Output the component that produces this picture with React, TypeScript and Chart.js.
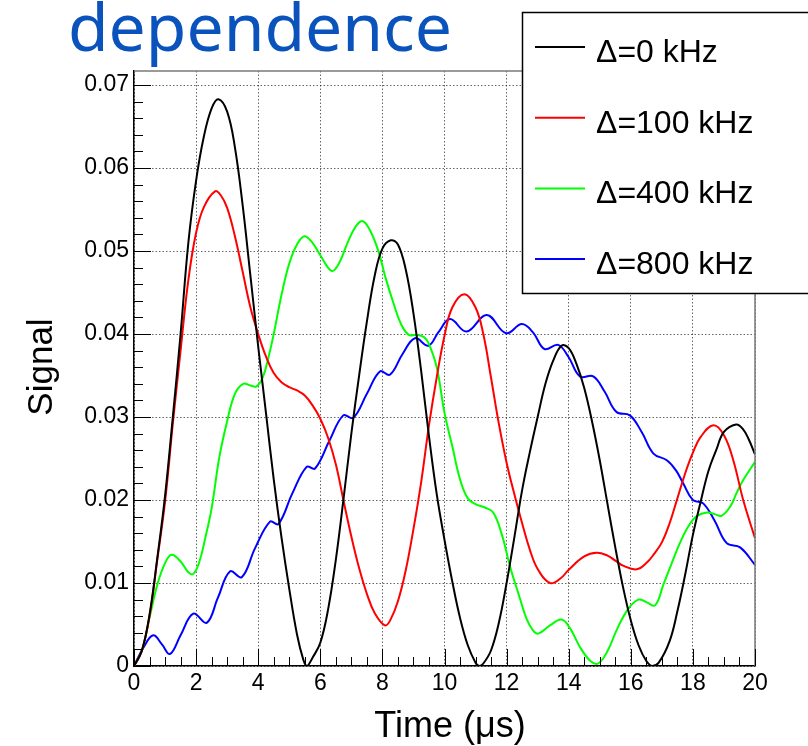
import React, { useEffect, useRef } from "react";
import { Chart, registerables } from "chart.js";

Chart.register(...registerables);

// ---- data ----
const seriesLabels = ["Δ=0 kHz", "Δ=100 kHz", "Δ=400 kHz", "Δ=800 kHz"];
const seriesColors = ["#000000", "#ff0000", "#00ff00", "#0000ff"];

const xTickValues = [0, 2, 4, 6, 8, 10, 12, 14, 16, 18, 20];
const yTickValues = [0, 0.01, 0.02, 0.03, 0.04, 0.05, 0.06, 0.07];

const time0 = [0, 0.25, 0.5, 0.75, 1.0, 1.25, 1.5, 1.75, 2.0, 2.25, 2.5, 2.72, 3.0, 3.25, 3.5, 3.75, 4.0, 4.25, 4.5, 4.75, 5.0, 5.25, 5.45, 5.57, 5.75, 6.0, 6.25, 6.5, 6.75, 7.0, 7.25, 7.5, 7.75, 8.0, 8.27, 8.5, 8.75, 9.0, 9.25, 9.5, 9.75, 10.0, 10.25, 10.5, 10.75, 11.0, 11.12, 11.25, 11.5, 11.75, 12.0, 12.25, 12.5, 12.75, 13.0, 13.25, 13.5, 13.77, 14.0, 14.25, 14.5, 14.75, 15.0, 15.25, 15.5, 15.75, 16.0, 16.25, 16.5, 16.69, 16.9, 17.25, 17.5, 17.75, 18.0, 18.25, 18.5, 18.75, 19.0, 19.39, 19.6, 19.8, 20.0];
const signal0 = [0, 0.0018, 0.0062, 0.013, 0.0205, 0.030, 0.040, 0.051, 0.0585, 0.0638, 0.0672, 0.0683, 0.0668, 0.0625, 0.0555, 0.047, 0.0385, 0.0305, 0.0225, 0.0155, 0.0093, 0.0038, 0.0008, 0, 0.001, 0.0028, 0.0068, 0.0128, 0.0202, 0.028, 0.035, 0.0415, 0.047, 0.0503, 0.0513, 0.0508, 0.0478, 0.0425, 0.0355, 0.0277, 0.0207, 0.0152, 0.0102, 0.0058, 0.0025, 0.0004, 0, 0.0003, 0.0019, 0.0052, 0.010, 0.0155, 0.0212, 0.0258, 0.030, 0.034, 0.0368, 0.0386, 0.0383, 0.0364, 0.0335, 0.0295, 0.0248, 0.0195, 0.0143, 0.0095, 0.0055, 0.0025, 0.0006, 0, 0.0004, 0.003, 0.0066, 0.011, 0.0158, 0.0198, 0.0235, 0.026, 0.0282, 0.0291, 0.0286, 0.0273, 0.0255];

const time100 = [0, 0.25, 0.5, 0.75, 1.0, 1.25, 1.5, 1.75, 2.0, 2.25, 2.61, 2.8, 3.0, 3.25, 3.5, 3.75, 4.0, 4.25, 4.5, 4.75, 5.0, 5.25, 5.5, 5.75, 6.0, 6.25, 6.5, 6.75, 7.0, 7.25, 7.5, 7.75, 8.08, 8.25, 8.5, 8.75, 9.0, 9.25, 9.5, 9.75, 10.0, 10.25, 10.64, 11.0, 11.25, 11.5, 11.75, 12.0, 12.25, 12.5, 12.75, 13.0, 13.4, 13.75, 14.0, 14.5, 14.9, 15.25, 15.5, 15.75, 16.19, 16.5, 16.75, 17.0, 17.25, 17.5, 17.75, 18.0, 18.25, 18.66, 19.0, 19.3, 19.62, 20.0];
const signal100 = [0, 0.0018, 0.006, 0.0128, 0.0198, 0.0292, 0.038, 0.0465, 0.0522, 0.0553, 0.0572, 0.0567, 0.0552, 0.0518, 0.0475, 0.0432, 0.040, 0.0373, 0.0353, 0.0342, 0.0336, 0.0332, 0.0326, 0.0314, 0.0298, 0.0275, 0.0243, 0.0199, 0.0156, 0.0118, 0.0087, 0.0064, 0.0049, 0.0055, 0.0078, 0.0115, 0.0165, 0.0222, 0.029, 0.0348, 0.0398, 0.0432, 0.0448, 0.0432, 0.040, 0.0347, 0.0292, 0.0245, 0.0207, 0.0172, 0.014, 0.0117, 0.010, 0.0106, 0.0116, 0.0132, 0.01365, 0.0133, 0.0127, 0.0121, 0.01165, 0.0124, 0.0135, 0.0149, 0.0172, 0.0202, 0.0232, 0.0257, 0.0276, 0.029, 0.0278, 0.0248, 0.020, 0.0154];

const time400 = [0, 0.25, 0.5, 0.75, 1.0, 1.21, 1.5, 1.75, 1.91, 2.1, 2.3, 2.5, 2.75, 3.0, 3.25, 3.52, 3.75, 3.95, 4.15, 4.35, 4.5, 4.75, 5.0, 5.25, 5.49, 5.75, 6.0, 6.37, 6.6, 6.9, 7.15, 7.37, 7.6, 7.87, 8.1, 8.35, 8.6, 8.85, 9.1, 9.35, 9.5, 9.75, 10.0, 10.25, 10.5, 10.75, 11.0, 11.3, 11.57, 11.85, 12.11, 12.4, 12.64, 12.85, 13.02, 13.4, 13.77, 14.05, 14.36, 14.7, 14.95, 15.25, 15.54, 15.9, 16.24, 16.5, 16.78, 17.05, 17.3, 17.58, 17.85, 18.1, 18.44, 18.7, 18.92, 19.2, 19.4, 19.62, 20.0];
const signal400 = [0, 0.0018, 0.0058, 0.0098, 0.0124, 0.0134, 0.0126, 0.0113, 0.0111, 0.0125, 0.0155, 0.019, 0.0252, 0.0295, 0.0328, 0.034, 0.0338, 0.0337, 0.0348, 0.0375, 0.040, 0.0447, 0.0485, 0.0508, 0.0518, 0.051, 0.0495, 0.0476, 0.0485, 0.0512, 0.053, 0.0536, 0.0525, 0.050, 0.0468, 0.0438, 0.0412, 0.0399, 0.0399, 0.0396, 0.0388, 0.036, 0.0305, 0.0265, 0.0225, 0.0202, 0.0195, 0.0191, 0.0185, 0.0158, 0.012, 0.0085, 0.0057, 0.0043, 0.0039, 0.0049, 0.0056, 0.0045, 0.0023, 0.0006, 0.0003, 0.0018, 0.0043, 0.0068, 0.008, 0.0077, 0.0073, 0.0098, 0.0122, 0.0148, 0.0168, 0.018, 0.0185, 0.0183, 0.0181, 0.0192, 0.0208, 0.0224, 0.0246];

const time800 = [0, 0.3, 0.62, 0.9, 1.16, 1.5, 1.91, 2.34, 2.7, 3.09, 3.47, 3.9, 4.38, 4.65, 5.1, 5.56, 5.83, 6.3, 6.74, 7.06, 7.5, 7.92, 8.24, 8.65, 9.05, 9.48, 9.8, 10.18, 10.71, 11.36, 11.98, 12.49, 12.85, 13.22, 13.66, 14.0, 14.36, 14.79, 15.15, 15.54, 15.97, 16.35, 16.73, 17.16, 17.45, 17.69, 18.0, 18.33, 18.7, 19.09, 19.52, 20.0];
const signal800 = [0, 0.0022, 0.0037, 0.0026, 0.00145, 0.0037, 0.0063, 0.0052, 0.0082, 0.0114, 0.0107, 0.0142, 0.0174, 0.0171, 0.0208, 0.024, 0.0238, 0.0272, 0.0302, 0.0299, 0.0328, 0.0355, 0.0351, 0.0376, 0.0395, 0.0386, 0.0402, 0.0418, 0.0403, 0.0423, 0.0401, 0.0412, 0.0402, 0.0382, 0.0387, 0.0372, 0.0349, 0.0349, 0.0331, 0.0306, 0.0302, 0.0282, 0.0256, 0.0248, 0.0236, 0.022, 0.020, 0.0196, 0.0175, 0.0148, 0.0143, 0.0122];

const seriesTimes = [time0, time100, time400, time800];
const seriesSignals = [signal0, signal100, signal400, signal800];

const titleText = "dependence";
const xTitle = "Time (μs)";
const yTitle = "Signal";

const SANS = "'Liberation Sans', Arial, Helvetica, sans-serif";

const rootDecor = {
  id: "rootDecor",
  afterDraw(chart: any) {
    const ctx = chart.ctx as CanvasRenderingContext2D;
    const { left, right, top, bottom } = chart.chartArea;
    const xs = chart.scales.x;
    const ys = chart.scales.y;
    ctx.save();
    // frame top / right
    ctx.strokeStyle = "#7a7a7a";
    ctx.lineWidth = 1.5;
    ctx.beginPath();
    ctx.moveTo(left, top);
    ctx.lineTo(right, top);
    ctx.lineTo(right, bottom);
    ctx.stroke();
    // inward ticks
    ctx.strokeStyle = "#000";
    ctx.lineWidth = 1;
    ctx.beginPath();
    for (let i = 0; i <= 40; i++) {
      const px = Math.round(xs.getPixelForValue(i * 0.5)) + 0.5;
      const len = i % 4 === 0 ? 17 : 9;
      ctx.moveTo(px, bottom);
      ctx.lineTo(px, bottom - len);
    }
    for (let i = 0; i <= 35; i++) {
      const py = Math.round(ys.getPixelForValue(i * 0.002)) + 0.5;
      const len = i % 5 === 0 ? 17 : 9;
      ctx.moveTo(left, py);
      ctx.lineTo(left + len, py);
    }
    ctx.stroke();
    // axis titles
    ctx.fillStyle = "#000";
    ctx.font = `36px ${SANS}`;
    ctx.textAlign = "center";
    ctx.textBaseline = "alphabetic";
    ctx.fillText(xTitle, 450, 737);
    ctx.save();
    ctx.translate(52, 367);
    ctx.rotate(-Math.PI / 2);
    ctx.font = `35px ${SANS}`;
    ctx.fillText(yTitle, 0, 0);
    ctx.restore();
    // title
    ctx.fillStyle = "#0a52bc";
    ctx.font = `66px 'Noto Sans', 'Open Sans', sans-serif`;
    ctx.textAlign = "left";
    ctx.fillText(titleText, 68, 51);
    // legend box
    ctx.fillStyle = "#fff";
    ctx.fillRect(522, 12, 300, 282);
    ctx.strokeStyle = "#000";
    ctx.lineWidth = 1.5;
    ctx.beginPath();
    ctx.moveTo(830, 12.5);
    ctx.lineTo(522.5, 12.5);
    ctx.lineTo(522.5, 293.5);
    ctx.lineTo(830, 293.5);
    ctx.stroke();
    const ds = chart.data.datasets;
    ctx.font = `32px ${SANS}`;
    ctx.textAlign = "left";
    for (let i = 0; i < ds.length; i++) {
      const y = 47 + i * 70.7;
      ctx.strokeStyle = ds[i].borderColor;
      ctx.lineWidth = 2;
      ctx.beginPath();
      ctx.moveTo(535, y);
      ctx.lineTo(585, y);
      ctx.stroke();
      ctx.fillStyle = "#000";
      ctx.fillText(ds[i].label, 596, y + 15);
    }
    ctx.restore();
  },
};

export default function App() {
  const ref = useRef<HTMLCanvasElement | null>(null);
  useEffect(() => {
    if (!ref.current) return;
    const datasets = seriesLabels.map((label, i) => ({
      label,
      data: seriesTimes[i].map((t, j) => ({ x: t, y: seriesSignals[i][j] })),
      borderColor: seriesColors[i],
      backgroundColor: seriesColors[i],
      borderWidth: 2,
      pointRadius: 0,
      fill: false,
      tension: 0.4,
    }));
    const chart = new Chart(ref.current, {
      type: "line",
      data: { datasets },
      options: {
        animation: false,
        responsive: false,
        devicePixelRatio: 1,
        layout: { padding: { left: 0, top: 71, right: 53, bottom: 0 } },
        plugins: { legend: { display: false }, title: { display: false }, tooltip: { enabled: false } },
        scales: {
          x: {
            type: "linear",
            min: 0,
            max: 20,
            afterFit: (s: any) => { s.height = 80; },
            afterBuildTicks: (s: any) => { s.ticks = xTickValues.map((v) => ({ value: v })); },
            ticks: {
              color: "#000",
              font: { family: SANS, size: 23 },
              padding: 4,
              maxRotation: 0,
              autoSkip: false,
              callback: (v: any) => String(v),
            },
            grid: { color: "rgba(0,0,0,0.6)", lineWidth: 1, drawTicks: false },
            border: { display: true, color: "#000", width: 1.5, dash: [1.5, 2] },
          },
          y: {
            type: "linear",
            min: 0,
            max: 0.0717,
            afterFit: (s: any) => { s.width = 134; },
            afterBuildTicks: (s: any) => { s.ticks = yTickValues.map((v) => ({ value: v })); },
            ticks: {
              color: "#000",
              font: { family: SANS, size: 23 },
              padding: 5,
              autoSkip: false,
              callback: (v: any) => (v === 0 ? "0" : Number(v).toFixed(2)),
            },
            grid: { color: "rgba(0,0,0,0.6)", lineWidth: 1, drawTicks: false },
            border: { display: true, color: "#000", width: 1.5, dash: [1.5, 2] },
          },
        },
      },
      plugins: [rootDecor],
    });
    return () => chart.destroy();
  }, []);
  return (
    <div style={{ position: "absolute", left: 0, top: 0, width: 808, height: 746, background: "#fff" }}>
      <canvas ref={ref} width={808} height={746} />
    </div>
  );
}
